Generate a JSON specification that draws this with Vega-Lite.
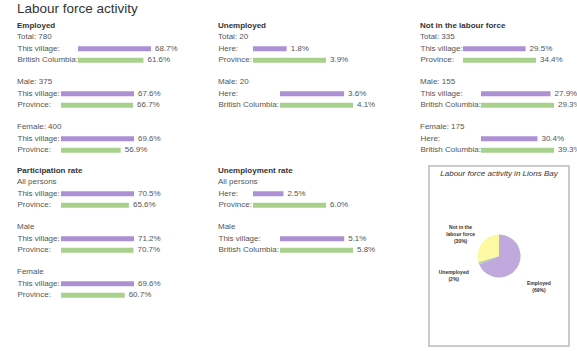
{
  "$schema": "https://vega.github.io/schema/vega-lite/v6.json",
  "padding": {"left": 17, "top": 1, "right": 0, "bottom": 0},
  "background": "white",
  "config": {
    "font": "Liberation Sans",
    "view": {"stroke": null},
    "title": {"anchor": "start", "fontSize": 8, "font": "Liberation Sans", "color": "#555", "fontWeight": "normal", "subtitleFontSize": 8, "subtitleColor": "#555", "subtitleFont": "Liberation Sans", "offset": 2, "subtitlePadding": 3},
    "axisY": {"domain": false, "ticks": false, "grid": false, "labelAlign": "left", "labelPadding": 0, "minExtent": 0, "labelFontSize": 8, "labelColor": "#555", "labelFont": "Liberation Sans"}
  },
  "datasets": {
    "bars": [
      {"g": "emp_total", "label": "This village:", "value": 0.687, "s": "here"},
      {"g": "emp_total", "label": "British Columbia:", "value": 0.616, "s": "prov"},
      {"g": "emp_male", "label": "This village:", "value": 0.676, "s": "here"},
      {"g": "emp_male", "label": "Province:", "value": 0.667, "s": "prov"},
      {"g": "emp_female", "label": "This village:", "value": 0.696, "s": "here"},
      {"g": "emp_female", "label": "Province:", "value": 0.569, "s": "prov"},
      {"g": "part_all", "label": "This village:", "value": 0.705, "s": "here"},
      {"g": "part_all", "label": "Province:", "value": 0.656, "s": "prov"},
      {"g": "part_male", "label": "This village:", "value": 0.712, "s": "here"},
      {"g": "part_male", "label": "Province:", "value": 0.707, "s": "prov"},
      {"g": "part_female", "label": "This village:", "value": 0.696, "s": "here"},
      {"g": "part_female", "label": "Province:", "value": 0.607, "s": "prov"},
      {"g": "unemp_total", "label": "Here:", "value": 0.018, "s": "here"},
      {"g": "unemp_total", "label": "Province:", "value": 0.039, "s": "prov"},
      {"g": "unemp_male", "label": "Here:", "value": 0.036, "s": "here"},
      {"g": "unemp_male", "label": "British Columbia:", "value": 0.041, "s": "prov"},
      {"g": "urate_all", "label": "Here:", "value": 0.025, "s": "here"},
      {"g": "urate_all", "label": "Province:", "value": 0.060, "s": "prov"},
      {"g": "urate_male", "label": "This village:", "value": 0.051, "s": "here"},
      {"g": "urate_male", "label": "British Columbia:", "value": 0.058, "s": "prov"},
      {"g": "nilf_total", "label": "This village:", "value": 0.295, "s": "here"},
      {"g": "nilf_total", "label": "Province:", "value": 0.344, "s": "prov"},
      {"g": "nilf_male", "label": "This village:", "value": 0.279, "s": "here"},
      {"g": "nilf_male", "label": "British Columbia:", "value": 0.293, "s": "prov"},
      {"g": "nilf_female", "label": "Here:", "value": 0.304, "s": "here"},
      {"g": "nilf_female", "label": "British Columbia:", "value": 0.393, "s": "prov"}
    ],
    "pie": [
      {"cat": "Employed", "n": 780, "k": 1, "lab": "Employed\n(69%)"},
      {"cat": "Unemployed", "n": 20, "k": 2, "lab": "Unemployed\n(2%)"},
      {"cat": "Not in the labour force", "n": 335, "k": 3, "lab": "Not in the\nlabour force\n(30%)"}
    ]
  },
  "data": {"name": "bars"},
  "title": {"text": "Labour force activity", "fontSize": 13.5, "color": "#333", "anchor": "start", "offset": 7},
  "spacing": 40,
  "resolve": {"scale": {"color": "independent"}},
  "hconcat": [
    {
      "vconcat": [
        {
          "vconcat": [
            {"title": {"text": "Employed", "subtitle": "Total: 780", "fontWeight": "bold", "color": "#333"}, "width": 161, "height": 23, "transform": [{"filter": "datum.g == 'emp_total'"}],
             "encoding": {"y": {"field": "label", "type": "nominal", "sort": null, "title": null, "scale": {"paddingInner": 0, "paddingOuter": 0}}, "x": {"field": "value", "type": "quantitative", "axis": null, "scale": {"range": [61, 134], "nice": false}}},
             "layer": [{"mark": {"type": "bar", "size": 5}, "encoding": {"color": {"field": "s", "type": "nominal", "legend": null, "scale": {"domain": ["here", "prov"], "range": ["#ad8fd3", "#a9d18e"]}}}},
                       {"mark": {"type": "text", "align": "left", "dx": 4, "fontSize": 8, "color": "#555"}, "encoding": {"text": {"field": "value", "format": ".1%"}}}]},
            {"title": {"text": "Male: 375"}, "width": 144, "height": 23, "transform": [{"filter": "datum.g == 'emp_male'"}],
             "encoding": {"y": {"field": "label", "type": "nominal", "sort": null, "title": null, "scale": {"paddingInner": 0, "paddingOuter": 0}}, "x": {"field": "value", "type": "quantitative", "axis": null, "scale": {"range": [44, 117], "nice": false}}},
             "layer": [{"mark": {"type": "bar", "size": 5}, "encoding": {"color": {"field": "s", "type": "nominal", "legend": null, "scale": {"domain": ["here", "prov"], "range": ["#ad8fd3", "#a9d18e"]}}}},
                       {"mark": {"type": "text", "align": "left", "dx": 4, "fontSize": 8, "color": "#555"}, "encoding": {"text": {"field": "value", "format": ".1%"}}}]},
            {"title": {"text": "Female: 400"}, "width": 144, "height": 23, "transform": [{"filter": "datum.g == 'emp_female'"}],
             "encoding": {"y": {"field": "label", "type": "nominal", "sort": null, "title": null, "scale": {"paddingInner": 0, "paddingOuter": 0}}, "x": {"field": "value", "type": "quantitative", "axis": null, "scale": {"range": [44, 117], "nice": false}}},
             "layer": [{"mark": {"type": "bar", "size": 5}, "encoding": {"color": {"field": "s", "type": "nominal", "legend": null, "scale": {"domain": ["here", "prov"], "range": ["#ad8fd3", "#a9d18e"]}}}},
                       {"mark": {"type": "text", "align": "left", "dx": 4, "fontSize": 8, "color": "#555"}, "encoding": {"text": {"field": "value", "format": ".1%"}}}]}
          ],
          "spacing": 12, "resolve": {"scale": {"color": "independent"}}
        },
        {
          "vconcat": [
            {"title": {"text": "Participation rate", "subtitle": "All persons", "fontWeight": "bold", "color": "#333"}, "width": 144, "height": 23, "transform": [{"filter": "datum.g == 'part_all'"}],
             "encoding": {"y": {"field": "label", "type": "nominal", "sort": null, "title": null, "scale": {"paddingInner": 0, "paddingOuter": 0}}, "x": {"field": "value", "type": "quantitative", "axis": null, "scale": {"range": [44, 117], "nice": false}}},
             "layer": [{"mark": {"type": "bar", "size": 5}, "encoding": {"color": {"field": "s", "type": "nominal", "legend": null, "scale": {"domain": ["here", "prov"], "range": ["#ad8fd3", "#a9d18e"]}}}},
                       {"mark": {"type": "text", "align": "left", "dx": 4, "fontSize": 8, "color": "#555"}, "encoding": {"text": {"field": "value", "format": ".1%"}}}]},
            {"title": {"text": "Male"}, "width": 144, "height": 23, "transform": [{"filter": "datum.g == 'part_male'"}],
             "encoding": {"y": {"field": "label", "type": "nominal", "sort": null, "title": null, "scale": {"paddingInner": 0, "paddingOuter": 0}}, "x": {"field": "value", "type": "quantitative", "axis": null, "scale": {"range": [44, 117], "nice": false}}},
             "layer": [{"mark": {"type": "bar", "size": 5}, "encoding": {"color": {"field": "s", "type": "nominal", "legend": null, "scale": {"domain": ["here", "prov"], "range": ["#ad8fd3", "#a9d18e"]}}}},
                       {"mark": {"type": "text", "align": "left", "dx": 4, "fontSize": 8, "color": "#555"}, "encoding": {"text": {"field": "value", "format": ".1%"}}}]},
            {"title": {"text": "Female"}, "width": 144, "height": 23, "transform": [{"filter": "datum.g == 'part_female'"}],
             "encoding": {"y": {"field": "label", "type": "nominal", "sort": null, "title": null, "scale": {"paddingInner": 0, "paddingOuter": 0}}, "x": {"field": "value", "type": "quantitative", "axis": null, "scale": {"range": [44, 117], "nice": false}}},
             "layer": [{"mark": {"type": "bar", "size": 5}, "encoding": {"color": {"field": "s", "type": "nominal", "legend": null, "scale": {"domain": ["here", "prov"], "range": ["#ad8fd3", "#a9d18e"]}}}},
                       {"mark": {"type": "text", "align": "left", "dx": 4, "fontSize": 8, "color": "#555"}, "encoding": {"text": {"field": "value", "format": ".1%"}}}]}
          ],
          "spacing": 12, "resolve": {"scale": {"color": "independent"}}
        }
      ],
      "spacing": 11, "resolve": {"scale": {"color": "independent"}}
    },
    {
      "vconcat": [
        {
          "vconcat": [
            {"title": {"text": "Unemployed", "subtitle": "Total: 20", "fontWeight": "bold", "color": "#333"}, "width": 135, "height": 23, "transform": [{"filter": "datum.g == 'unemp_total'"}],
             "encoding": {"y": {"field": "label", "type": "nominal", "sort": null, "title": null, "scale": {"paddingInner": 0, "paddingOuter": 0}}, "x": {"field": "value", "type": "quantitative", "axis": null, "scale": {"range": [35, 108], "nice": false}}},
             "layer": [{"mark": {"type": "bar", "size": 5}, "encoding": {"color": {"field": "s", "type": "nominal", "legend": null, "scale": {"domain": ["here", "prov"], "range": ["#ad8fd3", "#a9d18e"]}}}},
                       {"mark": {"type": "text", "align": "left", "dx": 4, "fontSize": 8, "color": "#555"}, "encoding": {"text": {"field": "value", "format": ".1%"}}}]},
            {"title": {"text": "Male: 20"}, "width": 162, "height": 23, "transform": [{"filter": "datum.g == 'unemp_male'"}],
             "encoding": {"y": {"field": "label", "type": "nominal", "sort": null, "title": null, "scale": {"paddingInner": 0, "paddingOuter": 0}}, "x": {"field": "value", "type": "quantitative", "axis": null, "scale": {"range": [62, 135], "nice": false}}},
             "layer": [{"mark": {"type": "bar", "size": 5}, "encoding": {"color": {"field": "s", "type": "nominal", "legend": null, "scale": {"domain": ["here", "prov"], "range": ["#ad8fd3", "#a9d18e"]}}}},
                       {"mark": {"type": "text", "align": "left", "dx": 4, "fontSize": 8, "color": "#555"}, "encoding": {"text": {"field": "value", "format": ".1%"}}}]}
          ],
          "spacing": 12, "resolve": {"scale": {"color": "independent"}}
        },
        {
          "vconcat": [
            {"title": {"text": "Unemployment rate", "subtitle": "All persons", "fontWeight": "bold", "color": "#333"}, "width": 135, "height": 23, "transform": [{"filter": "datum.g == 'urate_all'"}],
             "encoding": {"y": {"field": "label", "type": "nominal", "sort": null, "title": null, "scale": {"paddingInner": 0, "paddingOuter": 0}}, "x": {"field": "value", "type": "quantitative", "axis": null, "scale": {"range": [35, 108], "nice": false}}},
             "layer": [{"mark": {"type": "bar", "size": 5}, "encoding": {"color": {"field": "s", "type": "nominal", "legend": null, "scale": {"domain": ["here", "prov"], "range": ["#ad8fd3", "#a9d18e"]}}}},
                       {"mark": {"type": "text", "align": "left", "dx": 4, "fontSize": 8, "color": "#555"}, "encoding": {"text": {"field": "value", "format": ".1%"}}}]},
            {"title": {"text": "Male"}, "width": 162, "height": 23, "transform": [{"filter": "datum.g == 'urate_male'"}],
             "encoding": {"y": {"field": "label", "type": "nominal", "sort": null, "title": null, "scale": {"paddingInner": 0, "paddingOuter": 0}}, "x": {"field": "value", "type": "quantitative", "axis": null, "scale": {"range": [62, 135], "nice": false}}},
             "layer": [{"mark": {"type": "bar", "size": 5}, "encoding": {"color": {"field": "s", "type": "nominal", "legend": null, "scale": {"domain": ["here", "prov"], "range": ["#ad8fd3", "#a9d18e"]}}}},
                       {"mark": {"type": "text", "align": "left", "dx": 4, "fontSize": 8, "color": "#555"}, "encoding": {"text": {"field": "value", "format": ".1%"}}}]}
          ],
          "spacing": 12, "resolve": {"scale": {"color": "independent"}}
        }
      ],
      "spacing": 56, "resolve": {"scale": {"color": "independent"}}
    },
    {
      "vconcat": [
        {
          "vconcat": [
            {"title": {"text": "Not in the labour force", "subtitle": "Total: 335", "fontWeight": "bold", "color": "#333"}, "width": 134, "height": 23, "transform": [{"filter": "datum.g == 'nilf_total'"}],
             "encoding": {"y": {"field": "label", "type": "nominal", "sort": null, "title": null, "axis": {"labelPadding": 9}, "scale": {"paddingInner": 0, "paddingOuter": 0}}, "x": {"field": "value", "type": "quantitative", "axis": null, "scale": {"range": [34, 107], "nice": false}}},
             "layer": [{"mark": {"type": "bar", "size": 5}, "encoding": {"color": {"field": "s", "type": "nominal", "legend": null, "scale": {"domain": ["here", "prov"], "range": ["#ad8fd3", "#a9d18e"]}}}},
                       {"mark": {"type": "text", "align": "left", "dx": 4, "fontSize": 8, "color": "#555"}, "encoding": {"text": {"field": "value", "format": ".1%"}}}]},
            {"title": {"text": "Male: 155"}, "width": 152, "height": 23, "transform": [{"filter": "datum.g == 'nilf_male'"}],
             "encoding": {"y": {"field": "label", "type": "nominal", "sort": null, "title": null, "axis": {"labelPadding": 9}, "scale": {"paddingInner": 0, "paddingOuter": 0}}, "x": {"field": "value", "type": "quantitative", "axis": null, "scale": {"range": [52, 125], "nice": false}}},
             "layer": [{"mark": {"type": "bar", "size": 5}, "encoding": {"color": {"field": "s", "type": "nominal", "legend": null, "scale": {"domain": ["here", "prov"], "range": ["#ad8fd3", "#a9d18e"]}}}},
                       {"mark": {"type": "text", "align": "left", "dx": 4, "fontSize": 8, "color": "#555"}, "encoding": {"text": {"field": "value", "format": ".1%"}}}]},
            {"title": {"text": "Female: 175"}, "width": 152, "height": 23, "transform": [{"filter": "datum.g == 'nilf_female'"}],
             "encoding": {"y": {"field": "label", "type": "nominal", "sort": null, "title": null, "axis": {"labelPadding": 9}, "scale": {"paddingInner": 0, "paddingOuter": 0}}, "x": {"field": "value", "type": "quantitative", "axis": null, "scale": {"range": [52, 125], "nice": false}}},
             "layer": [{"mark": {"type": "bar", "size": 5}, "encoding": {"color": {"field": "s", "type": "nominal", "legend": null, "scale": {"domain": ["here", "prov"], "range": ["#ad8fd3", "#a9d18e"]}}}},
                       {"mark": {"type": "text", "align": "left", "dx": 4, "fontSize": 8, "color": "#555"}, "encoding": {"text": {"field": "value", "format": ".1%"}}}]}
          ],
          "spacing": 12, "resolve": {"scale": {"color": "independent"}}
        },
        {
          "data": {"name": "pie"},
          "width": 140, "height": 180,
          "view": {"stroke": "#bbbbbb", "strokeWidth": 1.5},
          "title": {"text": "Labour force activity in Lions Bay", "fontStyle": "italic", "anchor": "middle", "fontSize": 8, "color": "#333", "offset": -12},
          "encoding": {"theta": {"field": "n", "type": "quantitative", "stack": true}, "order": {"field": "k", "type": "quantitative"}},
          "layer": [
            {"mark": {"type": "arc", "outerRadius": 21.5}, "encoding": {"color": {"field": "cat", "type": "nominal", "legend": null, "scale": {"domain": ["Employed", "Unemployed", "Not in the labour force"], "range": ["#c0a9dc", "#b5d99c", "#fdf9a3"]}}}},
            {"mark": {"type": "text", "radius": 48, "fontSize": 5, "fontWeight": "bold", "lineBreak": "\n", "color": "#333"}, "encoding": {"text": {"field": "lab"}}}
          ]
        }
      ],
      "spacing": 9, "resolve": {"scale": {"color": "independent"}}
    }
  ]
}
